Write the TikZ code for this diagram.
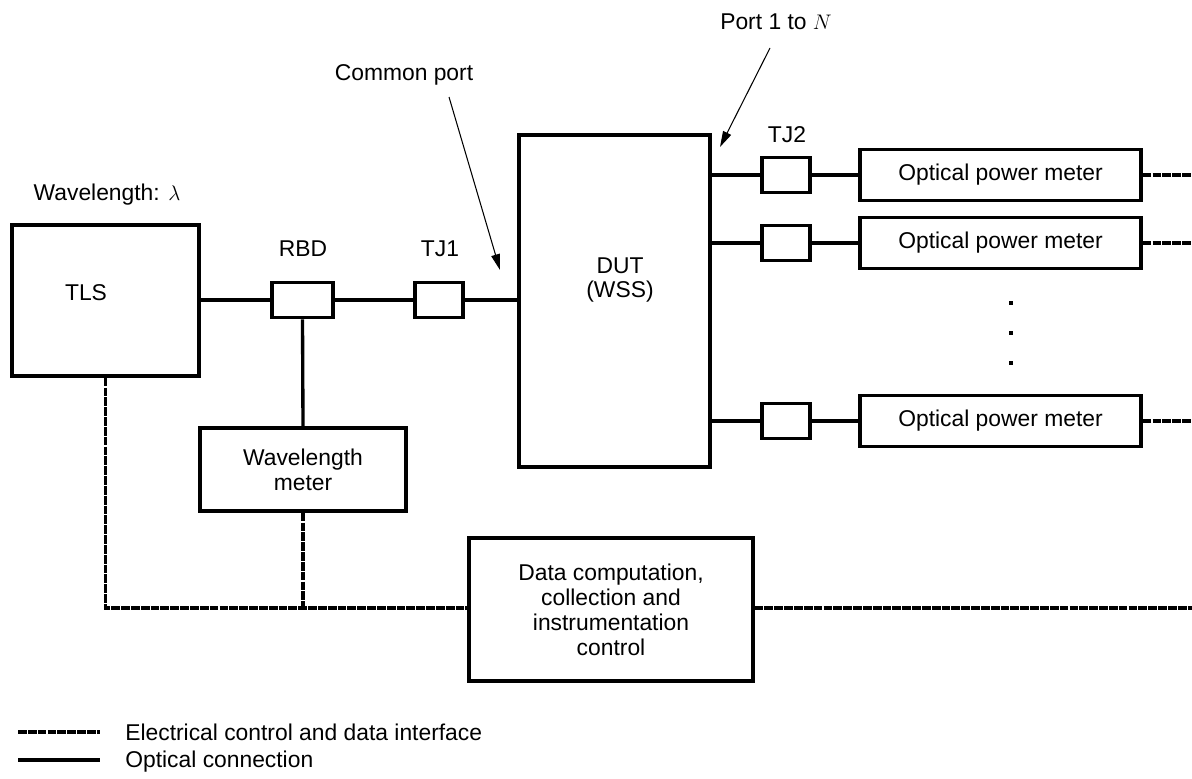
\documentclass[tikz,border=0pt]{standalone}
\usepackage{fontspec}
\setmainfont{Liberation Sans}
\usepackage{tikz}
\usetikzlibrary{positioning,arrows.meta}

\begin{document}
\begin{tikzpicture}[x=0.02cm,y=-0.02cm,
  font=\fontsize{13}{14.2}\selectfont,
  % boxes and the small in-line parts
  box/.style={draw,line width=1.9pt,rectangle,inner sep=0pt,align=center},
  tj/.style={box,minimum width=0.96cm,minimum height=0.71cm},
  opm/.style={box,minimum width=5.62cm,minimum height=1.02cm},
  lab/.style={inner sep=0pt,align=center},
  % the two kinds of link
  opt/.style={line width=1.9pt},
  elec/.style={line width=1.9pt,dash pattern=on 5pt off 0.6pt},
  ptr/.style={line width=0.6pt,-{Triangle[length=9pt,width=5pt]}},
]
\useasboundingbox (0,0) rectangle (1192,778);

% =========== source side ===========
\node[box,minimum width=3.74cm,minimum height=3.02cm] (tls) at (105.5,300.5) {};
\node[lab] (tlstxt) at (86,293) {TLS};
\node[lab] (wlen) at (107,195) {Wavelength: $\lambda$};
\node[box,minimum width=1.22cm,minimum height=0.71cm] (rbd) at (302.5,300) {};
\node[lab] (rbdtxt) at (303,249) {RBD};
\node[tj] (tj1) at (439,300) {};
\node[lab] (tj1txt) at (440,249) {TJ1};
\node[box,minimum width=4.12cm,minimum height=1.66cm] (wm) at (303,469.5) {Wavelength\\meter};

% =========== device under test ===========
\node[box,minimum width=3.82cm,minimum height=6.64cm] (dut) at (614.5,301) {};
\node[lab] (duttxt) at (620,280) {DUT\\(WSS)};

\draw[opt] (tls.east |- rbd.west) -- (rbd.west);
\draw[opt] (rbd.east) -- (tj1.west);
\draw[opt] (tj1.east) -- (tj1.east -| dut.west);
\draw[opt] (rbd.south) -- (wm.north);

% =========== output ports ===========
\foreach \i/\y in {1/175,2/243,3/421}{
  \node[tj] (tj2\i) at (786,\y) {};
  \node[opm] (opm\i) at (1000.5,\y) {Optical power meter};
  \coordinate (edge\i) at (1192,\y);
  \draw[opt,line cap=round] (tj2\i.west -| dut.east) -- (tj2\i.west);
  \draw[opt] (tj2\i.east) -- (opm\i.west);
  \draw[elec] (opm\i.east) -- (edge\i);
}
\node[lab] (tj2txt) at (787,135) {TJ2};
\foreach \y in {303,333,363}
  \fill (1009,\y-2) rectangle (1013,\y+2);

% =========== control ===========
\node[box,minimum width=5.68cm,minimum height=2.86cm] (data) at (611,609.5)
  {Data computation,\\collection and\\instrumentation\\control};
\coordinate (edge4) at (1192,608);
\draw[elec] (tls.south) |- (data.west |- edge4);
\draw[elec] (wm.south) -- (wm.south |- edge4);
\draw[elec] (data.east |- edge4) -- (edge4);

% =========== port callouts ===========
\node[lab] (cpl) at (404,75) {Common port};
\node[lab] (ppl) at (776,22) {Port 1 to $N$};
\coordinate (cp0) at (449,97);
\coordinate (cp1) at (500,270);
\coordinate (pp0) at (770,48);
\coordinate (pp1) at (720,147);
\draw[ptr] (cp0) -- (cp1);
\draw[ptr] (pp0) -- (pp1);

% =========== legend ===========
\coordinate (le0) at (18,732);
\coordinate (le1) at (100,732);
\coordinate (lo0) at (18,760);
\coordinate (lo1) at (100,760);
\draw[elec] (le0) -- (le1);
\draw[opt] (lo0) -- (lo1);
\node[lab,anchor=west] (letxt) at (125,732) {Electrical control and data interface};
\node[lab,anchor=west] (lotxt) at (125,762) {Optical connection};

\end{tikzpicture}
\end{document}
